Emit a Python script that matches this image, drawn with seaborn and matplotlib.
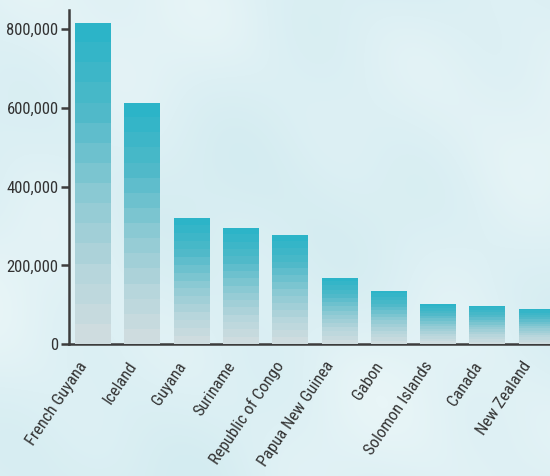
import numpy as np
import pandas as pd
import matplotlib
matplotlib.use("Agg")
import matplotlib.pyplot as plt
import matplotlib.transforms as mtransforms
from matplotlib import font_manager
import seaborn as sns
from matplotlib.colors import LinearSegmentedColormap
from matplotlib.ticker import FuncFormatter

countries = ["French Guyana", "Iceland", "Guyana", "Suriname", "Republic of Congo",
             "Papua New Guinea", "Gabon", "Solomon Islands", "Canada", "New Zealand"]
values = [815000, 612000, 320000, 295000, 277000, 168000, 136000, 103000, 97000, 90000]
yticks = [0, 200000, 400000, 600000, 800000]

df = pd.DataFrame({"country": countries, "value": values})

sns.set_theme(style="white")
names = {f.name for f in font_manager.fontManager.ttflist}
narrow = [n for n in ["Liberation Sans Narrow", "Roboto Condensed", "Open Sans Condensed",
                      "DejaVu Sans Condensed", "Liberation Sans"] if n in names]
plt.rcParams["font.family"] = narrow[:1] + ["DejaVu Sans"]
is_narrow = bool(narrow) and ("Narrow" in narrow[0] or "Condensed" in narrow[0])
fs = 12 if is_narrow else 10.5

fig = plt.figure(figsize=(5.5, 4.76), dpi=100)
bg = "#dcf0f4"
fig.patch.set_facecolor(bg)

# soft watercolor-like backdrop (deterministic, smooth)
bgax = fig.add_axes([0, 0, 1, 1], zorder=-5)
yy, xx = np.mgrid[0:476, 0:550] / 100.0
tex = (np.sin(xx * 1.3 + yy * 0.6) + np.sin(xx * 0.5 - yy * 1.9 + 1.0)
       + 0.6 * np.sin(xx * 2.7 + yy * 2.1 + 2.0) + 0.5 * np.sin(xx * 3.9 - yy * 3.3))
tex = (tex - tex.min()) / (tex.max() - tex.min())
bgcmap = LinearSegmentedColormap.from_list("bg", ["#d4ecf1", "#ddf0f4", "#e8f5f7"])
bgax.imshow(tex, cmap=bgcmap, aspect="auto", interpolation="bilinear")
bgax.axis("off")

ax = fig.add_axes([0.1255, 0.277, 0.8745, 0.702])
ax.patch.set_alpha(0)

sns.barplot(data=df, x="country", y="value", ax=ax, width=0.73,
            color="#2fb5c9", saturation=1, zorder=3, linewidth=0)

cmap = LinearSegmentedColormap.from_list(
    "g", [(0.0, "#cedcdf"), (0.2, "#b7d6dc"), (0.45, "#8ecad4"),
          (0.75, "#4db9c9"), (1.0, "#2cb4c8")])
nb = 16
grad = (np.floor(np.linspace(0, 1, 256) * nb) / (nb - 1)).clip(0, 1).reshape(-1, 1)
for p in list(ax.patches):
    x0, y0 = p.get_x(), p.get_y()
    w, h = p.get_width(), p.get_height()
    p.set_facecolor("none")
    p.set_edgecolor("none")
    im = ax.imshow(grad, cmap=cmap, aspect="auto", origin="lower",
                   extent=[x0, x0 + w, y0, y0 + h], zorder=3, interpolation="nearest")
    im.set_clip_path(p)
ax.set_xlim(-0.49, 9.27)
ax.set_ylim(0, 848000)

ax.set_yticks(yticks)
ax.yaxis.set_major_formatter(FuncFormatter(lambda v, _: f"{int(v):,}"))
ax.set_xlabel("")
ax.set_ylabel("")

for s in ["top", "right"]:
    ax.spines[s].set_visible(False)
for s in ["left", "bottom"]:
    ax.spines[s].set_color("#3c3c3c")
    ax.spines[s].set_linewidth(1.8)
    ax.spines[s].set_zorder(2)

ax.tick_params(axis="y", left=True, length=6, width=1.8, color="#3c3c3c",
               labelsize=fs, labelcolor="#333333", pad=1.5)
ax.tick_params(axis="x", bottom=False, labelsize=fs, labelcolor="#333333", pad=9.5)
offset = mtransforms.ScaledTranslation(-5 / 100, 0, fig.dpi_scale_trans)
for lab in ax.get_xticklabels():
    lab.set_rotation(56)
    lab.set_ha("right")
    lab.set_va("baseline")
    lab.set_rotation_mode("anchor")
    lab.set_transform(lab.get_transform() + offset)

fig.savefig("out.png", dpi=100, facecolor=bg)
